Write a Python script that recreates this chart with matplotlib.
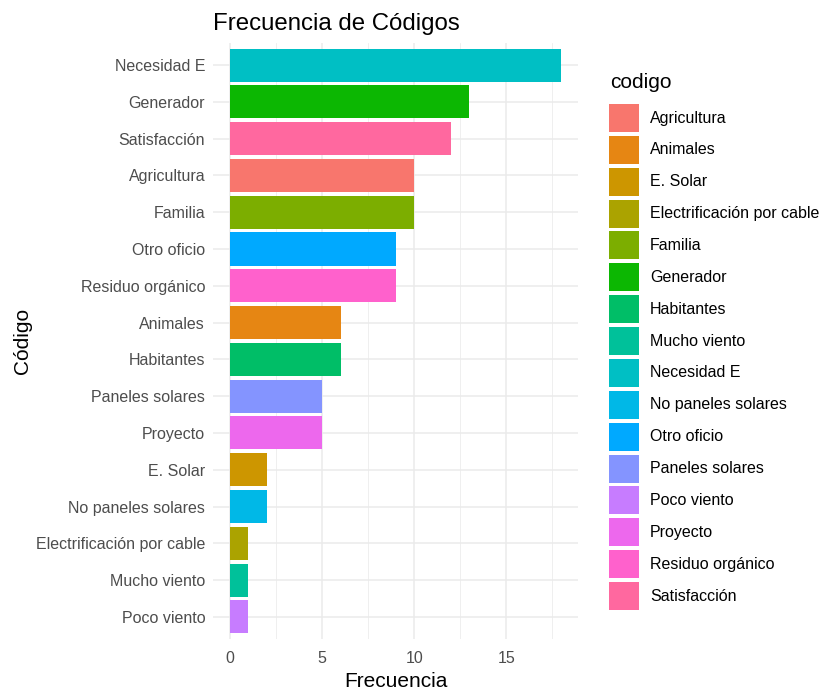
import matplotlib
matplotlib.use("Agg")
import matplotlib.pyplot as plt
from matplotlib.patches import Rectangle

plt.rcParams['font.family'] = ['Liberation Sans', 'DejaVu Sans']

# Data (ordered top to bottom as in the chart)
codigos = ["Necesidad E", "Generador", "Satisfacción", "Agricultura", "Familia",
           "Otro oficio", "Residuo orgánico", "Animales", "Habitantes",
           "Paneles solares", "Proyecto", "E. Solar", "No paneles solares",
           "Electrificación por cable", "Mucho viento", "Poco viento"]
frecuencias = [18, 13, 12, 10, 10, 9, 9, 6, 6, 5, 5, 2, 2, 1, 1, 1]

# Legend order (alphabetical factor levels) and ggplot hue palette
niveles = ["Agricultura", "Animales", "E. Solar", "Electrificación por cable",
           "Familia", "Generador", "Habitantes", "Mucho viento", "Necesidad E",
           "No paneles solares", "Otro oficio", "Paneles solares", "Poco viento",
           "Proyecto", "Residuo orgánico", "Satisfacción"]
paleta = ["#F8766D", "#E68613", "#CD9600", "#ABA300", "#7CAE00", "#0CB702",
          "#00BE67", "#00C19A", "#00BFC4", "#00B8E7", "#00A9FF", "#8494FF",
          "#C77CFF", "#ED68ED", "#FF61CC", "#FF689F"]
color_map = dict(zip(niveles, paleta))

W, H = 822, 690
fig = plt.figure(figsize=(W / 100, H / 100), dpi=100)
ax = fig.add_axes([0.2597, 0.074, 0.7032 - 0.2597, 0.9377 - 0.074])

n = len(codigos)
ypos = list(range(n - 1, -1, -1))
ax.barh(ypos, frecuencias, height=0.9, color=[color_map[c] for c in codigos], zorder=3)

ax.set_xlim(-0.9, 18.9)
ax.set_ylim(-0.6, n - 1 + 0.6)
ax.set_yticks(ypos)
ax.set_yticklabels(codigos)
ax.set_xticks([0, 5, 10, 15])
ax.set_xticks([2.5, 7.5, 12.5, 17.5], minor=True)

ax.grid(True, which='major', color='#EBEBEB', linewidth=1.1, zorder=0)
ax.grid(True, which='minor', axis='x', color='#EBEBEB', linewidth=0.55, zorder=0)
for s in ax.spines.values():
    s.set_visible(False)
ax.tick_params(axis='both', which='both', length=0, labelsize=11.5, labelcolor='#4D4D4D')
ax.tick_params(axis='y', pad=6)
ax.tick_params(axis='x', pad=9)

ax.set_xlabel("Frecuencia", fontsize=15, color='black', labelpad=4)
ax.set_ylabel("Código", fontsize=15, color='black', labelpad=2.5)
ax.set_title("Frecuencia de Códigos", fontsize=17.3, loc='left', pad=9, x=0)

# Legend (ggplot style), drawn in figure pixel coordinates
fig.text(610 / W, 1 - 82 / H, "codigo", fontsize=15, va='center', ha='left')
key_w, key_h, step, y0 = 30, 28, 31.87, 118
for i, nivel in enumerate(niveles):
    yc = y0 + i * step
    fig.add_artist(Rectangle((609 / W, 1 - (yc + key_h / 2) / H), key_w / W, key_h / H,
                             transform=fig.transFigure, facecolor=color_map[nivel],
                             edgecolor='none'))
    fig.text(650 / W, 1 - yc / H, nivel, fontsize=11.5, va='center', ha='left')

fig.savefig("out.png", dpi=100)
